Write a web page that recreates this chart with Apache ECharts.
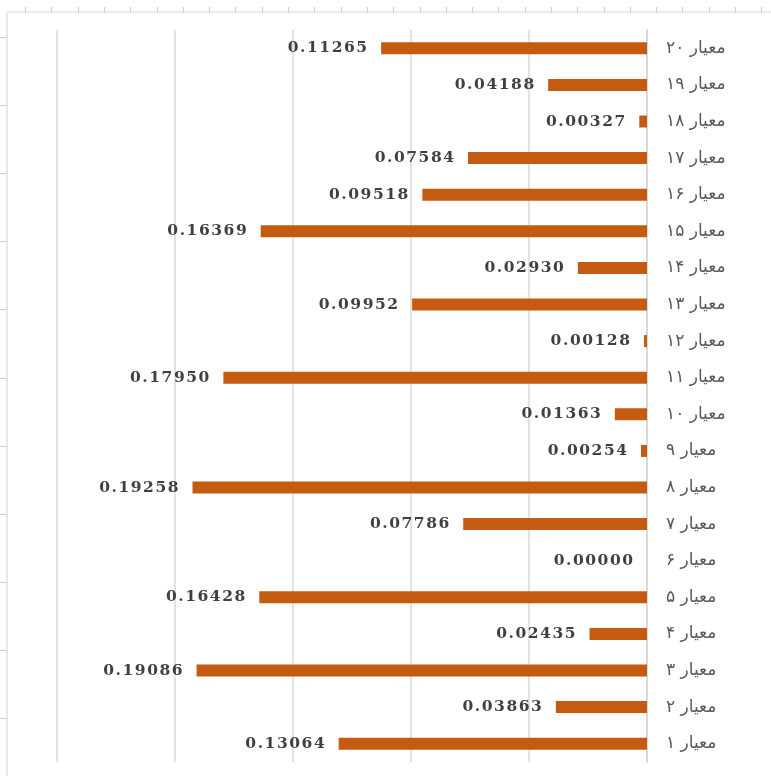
<!DOCTYPE html>
<html>
<head>
<meta charset="utf-8">
<script src="https://cdn.jsdelivr.net/npm/echarts@6/dist/echarts.min.js"></script>
<style>
    html, body { margin: 0; padding: 0; background: #ffffff; }
    #chart { width: 771px; height: 776px; }
</style>
</head>
<body>
<div id="chart"></div>
<script>
// criteria, bottom (۱) to top (۲۰)
const categories = [
    "معیار ۱", "معیار ۲", "معیار ۳", "معیار ۴", "معیار ۵",
    "معیار ۶", "معیار ۷", "معیار ۸", "معیار ۹", "معیار ۱۰",
    "معیار ۱۱", "معیار ۱۲", "معیار ۱۳", "معیار ۱۴", "معیار ۱۵",
    "معیار ۱۶", "معیار ۱۷", "معیار ۱۸", "معیار ۱۹", "معیار ۲۰"
];
const weights = [
    0.13064, 0.03863, 0.19086, 0.02435, 0.16428,
    0.00000, 0.07786, 0.19258, 0.00254, 0.01363,
    0.17950, 0.00128, 0.09952, 0.02930, 0.16369,
    0.09518, 0.07584, 0.00327, 0.04188, 0.11265
];

const chart = echarts.init(document.getElementById("chart"));

// the labels in the picture are wide, so spread the digits a little
const spread = (v) => v.toFixed(5).split("").join("\u200A");

// ruler bits along the top and left edge (the screenshot was cut from a page)
const ruler = [
    { type: "line", shape: { x1: 7, y1: 12, x2: 771, y2: 12 }, style: { stroke: "#d4d4d4", lineWidth: 1 } },
    { type: "line", shape: { x1: 7, y1: 12, x2: 7, y2: 776 }, style: { stroke: "#d4d4d4", lineWidth: 1 } }
];
for (let x = 25; x < 771; x += 26.3) {
    ruler.push({ type: "line", shape: { x1: Math.round(x) + 0.5, y1: 7, x2: Math.round(x) + 0.5, y2: 12 }, style: { stroke: "#cccccc", lineWidth: 1 } });
}
for (let y = 37; y < 776; y += 68.1) {
    ruler.push({ type: "line", shape: { x1: 0, y1: Math.round(y) + 0.5, x2: 7, y2: Math.round(y) + 0.5 }, style: { stroke: "#cccccc", lineWidth: 1 } });
}

chart.setOption({
    animation: false,
    backgroundColor: "#ffffff",
    graphic: ruler,
    grid: { left: 57, right: 124, top: 30, bottom: 14, containLabel: false },
    xAxis: {
        type: "value",
        inverse: true,
        min: 0,
        max: 0.25,
        interval: 0.05,
        axisLabel: { show: false },
        axisLine: { show: false },
        axisTick: { show: false },
        splitLine: { lineStyle: { color: "#d9d9d9", width: 1.5 } }
    },
    yAxis: {
        type: "category",
        position: "right",
        data: categories,
        axisLine: { show: true, lineStyle: { color: "#d9d9d9", width: 2 } },
        axisTick: { show: false },
        axisLabel: {
            margin: 19,
            align: "left",
            color: "#595959",
            fontFamily: "DejaVu Sans",
            fontSize: 17
        }
    },
    series: [{
        type: "bar",
        data: weights,
        barWidth: 12,
        itemStyle: { color: "#c55a11" },
        label: {
            show: true,
            position: "left",
            distance: 14,
            formatter: (p) => spread(p.value),
            color: "#404040",
            fontFamily: "DejaVu Serif",
            fontWeight: "bold",
            fontSize: 15.5
        }
    }]
});
</script>
</body>
</html>
